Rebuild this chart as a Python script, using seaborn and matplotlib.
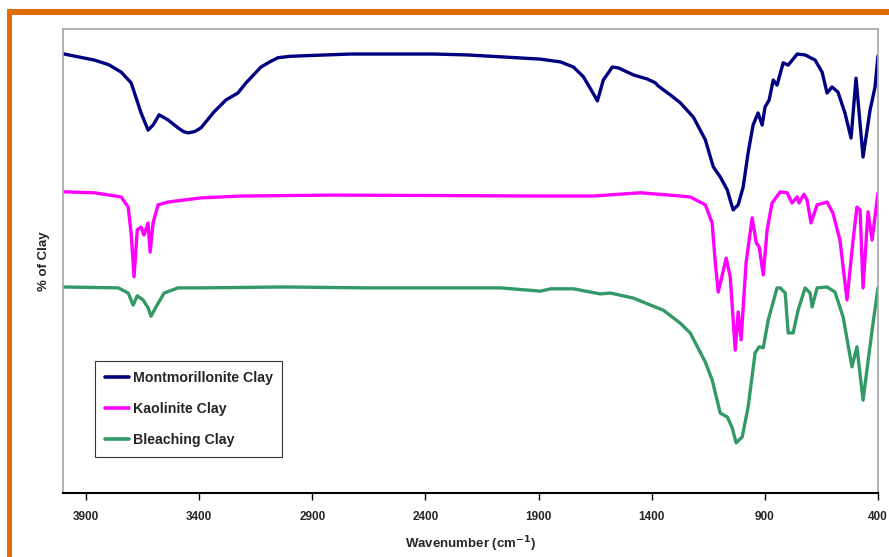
import matplotlib
matplotlib.use('Agg')
import matplotlib.pyplot as plt
from matplotlib.patches import Rectangle
import seaborn as sns
import pandas as pd

# wavenumber (cm-1) and relative value
mont_wn = [3997, 3864, 3800, 3745, 3701, 3657, 3626, 3604, 3577, 3538, 3494, 3470, 3449, 3420,
           3392, 3335, 3282, 3229, 3193, 3127, 3085, 3052, 3000, 2951, 2730, 2364, 2214, 2068,
           1892, 1803, 1746, 1702, 1662, 1640, 1614, 1574, 1547, 1481, 1419, 1384, 1371, 1318,
           1274, 1216, 1163, 1128, 1097, 1066, 1053, 1040, 1018, 996, 974, 952, 930, 912, 899,
           881, 863, 846, 819, 797, 757, 722, 678, 647, 625, 603, 577, 546, 519, 497, 466, 435,
           413, 400]
mont_val = [94.6, 93.3, 92.3, 90.7, 88.4, 81.9, 78.2, 79.3, 81.5, 80.4, 78.7, 77.9, 77.6, 77.9,
            78.7, 82.1, 84.7, 86.2, 88.4, 91.8, 93.0, 93.8, 94.1, 94.2, 94.6, 94.6, 94.4, 94.0,
            93.5, 92.9, 91.8, 89.7, 86.4, 84.5, 89.0, 91.8, 91.6, 90.1, 89.2, 88.4, 87.7, 85.8,
            84.1, 81.0, 76.1, 70.3, 68.1, 65.3, 63.1, 61.0, 62.1, 65.9, 73.3, 79.3, 81.9, 79.3,
            83.2, 84.7, 89.0, 87.9, 92.7, 92.2, 94.6, 94.4, 93.3, 90.7, 86.2, 87.5, 86.4, 81.9,
            76.5, 89.4, 72.4, 82.5, 87.5, 94.2]

kaol_wn = [3997, 3864, 3745, 3714, 3701, 3688, 3674, 3657, 3644, 3626, 3617, 3604, 3582, 3538,
           3392, 3215, 2805, 1892, 1658, 1450, 1274, 1230, 1163, 1133, 1119, 1106, 1071, 1053,
           1031, 1018, 1005, 983, 956, 938, 925, 907, 890, 868, 832, 802, 780, 757, 749, 727,
           713, 696, 669, 625, 599, 568, 537, 510, 493, 479, 466, 444, 426, 400]
kaol_val = [64.9, 64.7, 63.8, 61.6, 56.0, 46.6, 56.7, 57.3, 55.6, 58.2, 51.9, 58.2, 62.1, 62.7,
            63.6, 64.0, 64.2, 64.0, 64.0, 64.7, 64.0, 63.8, 62.1, 58.2, 49.6, 43.3, 50.6, 46.6,
            30.8, 39.0, 33.0, 49.6, 59.3, 53.9, 53.0, 47.0, 56.7, 62.5, 64.9, 64.7, 62.5, 63.8,
            62.5, 64.4, 63.1, 58.2, 62.1, 62.7, 60.3, 54.5, 41.6, 54.5, 61.6, 61.0, 44.2, 60.6,
            54.5, 64.7]

blch_wn = [3997, 3758, 3714, 3692, 3674, 3648, 3626, 3613, 3591, 3555, 3494, 3392, 3026, 2655,
           2214, 2068, 1892, 1847, 1746, 1627, 1583, 1481, 1406, 1349, 1274, 1230, 1163, 1133,
           1097, 1066, 1044, 1027, 1000, 974, 943, 925, 907, 885, 846, 832, 810, 797, 775, 753,
           722, 700, 691, 669, 625, 590, 554, 515, 493, 466, 426, 400]
blch_val = [44.4, 44.2, 43.1, 40.5, 42.5, 41.6, 39.9, 38.1, 40.1, 43.1, 44.2, 44.2, 44.4, 44.2,
            44.2, 44.2, 43.5, 44.0, 44.0, 42.9, 43.1, 42.0, 40.5, 39.4, 36.6, 34.5, 28.2, 24.4,
            17.2, 16.4, 14.0, 10.8, 12.1, 18.5, 30.2, 31.5, 31.3, 37.3, 44.2, 44.2, 43.1, 34.5,
            34.5, 39.4, 44.2, 43.1, 40.1, 44.2, 44.4, 43.3, 37.9, 27.2, 31.5, 20.0, 35.1, 44.2]

series = ['Montmorillonite Clay', 'Kaolinite Clay', 'Bleaching Clay']
colors = ['#000080', '#FF00FF', '#339966']
x_ticks = [3900, 3400, 2900, 2400, 1900, 1400, 900, 400]

df = pd.concat([
    pd.DataFrame({'wn': mont_wn, 'val': mont_val, 'clay': series[0]}),
    pd.DataFrame({'wn': kaol_wn, 'val': kaol_val, 'clay': series[1]}),
    pd.DataFrame({'wn': blch_wn, 'val': blch_val, 'clay': series[2]}),
])

sns.set_style('white')
plt.rcParams['font.family'] = ['Liberation Sans', 'DejaVu Sans']

fig = plt.figure(figsize=(8.89, 5.57), dpi=100)
ax = fig.add_axes([0.0714, 0.1149, 0.9162, 0.8331])

sns.lineplot(data=df, x='wn', y='val', hue='clay', palette=dict(zip(series, colors)),
             estimator=None, sort=False, linewidth=2.4, ax=ax)
for line in ax.get_lines():
    line.set_solid_joinstyle('round')
    line.set_solid_capstyle('round')

ax.set_xlim(4000, 400)
ax.set_ylim(0, 100)
ax.set_xticks(x_ticks)
ax.set_xticklabels([str(t) for t in x_ticks], fontsize=8.5, fontweight='bold')
ax.set_yticks([])
ax.tick_params(axis='x', direction='out', length=5, width=1, color='black', pad=8, bottom=True)
ax.set_xlabel('Wavenumber (cm$^{\\mathbf{-1}}$)', fontsize=9.5, fontweight='bold', labelpad=8)
ax.set_ylabel('% of Clay', fontsize=9.5, fontweight='bold', labelpad=10)

for side in ['left', 'top', 'right']:
    ax.spines[side].set_color('#A6A6A6')
    ax.spines[side].set_linewidth(1.2)
ax.spines['bottom'].set_color('black')
ax.spines['bottom'].set_linewidth(1.5)

leg = ax.legend(loc='upper left', bbox_to_anchor=(0.0387, 0.2845), borderaxespad=0,
                frameon=True, fancybox=False, edgecolor='black', handlelength=1.7,
                labelspacing=1.2, borderpad=0.7, handletextpad=0.25,
                prop={'weight': 'bold', 'size': 10.2})
leg.get_frame().set_linewidth(0.8)
for line in leg.get_lines():
    line.set_linewidth(2.6)

# orange frame on top and left of the picture
fig.add_artist(Rectangle((7 / 889, 1 - 15 / 557), 1, 6 / 557, transform=fig.transFigure,
                         color='#E36C0A', lw=0))
fig.add_artist(Rectangle((7 / 889, 0), 5 / 889, 1 - 9 / 557, transform=fig.transFigure,
                         color='#E36C0A', lw=0))

fig.savefig('out.png', dpi=100)
